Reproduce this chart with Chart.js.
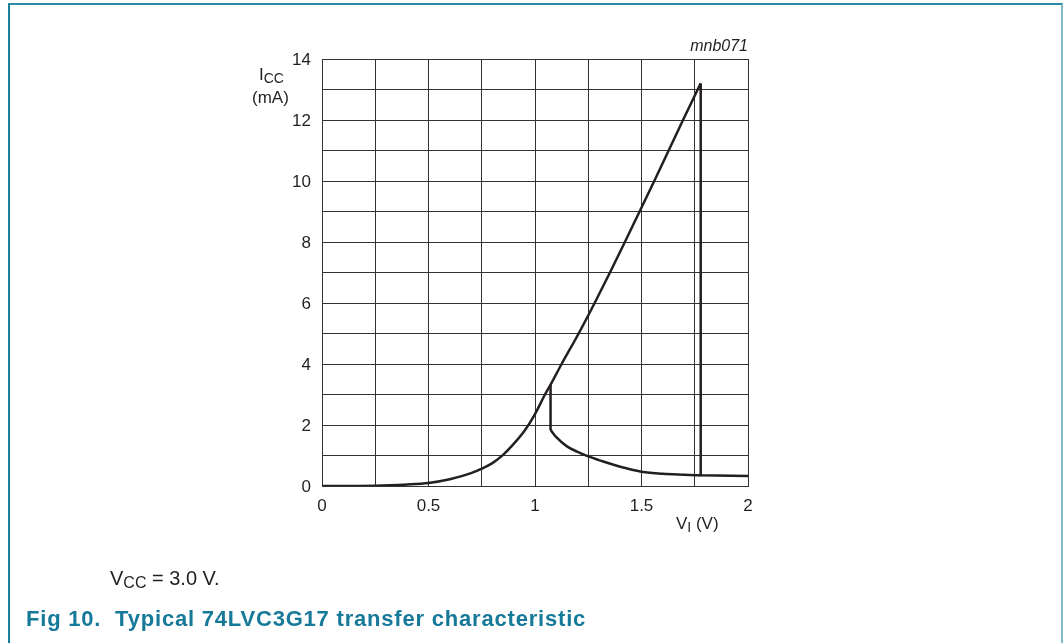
<!DOCTYPE html>
<html>
<head>
<meta charset="utf-8">
<script src="https://cdn.jsdelivr.net/npm/chart.js@4/dist/chart.umd.min.js"></script>
<style>
  body { margin: 0; background: #fff; font-family: "Liberation Sans", Arial, sans-serif; }
  #wrap { position: relative; width: 1063px; height: 643px; overflow: hidden; }
  #frame { position: absolute; left: 8px; top: 3px; width: 1051px; height: 660px;
           border-left: 2px solid #17809a; border-top: 2px solid #2a8aa3; border-right: 2px solid #7fbccd; }
  canvas { position: absolute; left: 0; top: 0; }
  .t { position: absolute; color: #231f20; white-space: nowrap; line-height: 1; }
  .sub { font-size: 14px; position: relative; top: 3px; }
</style>
</head>
<body>
<div id="wrap">
  <div id="frame"></div>
  <canvas id="chart" width="1063" height="643"></canvas>
  <div class="t" style="left:259px; top:66px; font-size:17px;">I<span class="sub">CC</span></div>
  <div class="t" style="left:252px; top:89px; font-size:17px;">(mA)</div>
  <div class="t" style="left:676px; top:515px; font-size:17px;">V<span class="sub">I</span> (V)</div>
  <div class="t" style="right:315px; top:38px; font-size:16px; font-style:italic;">mnb071</div>
  <div class="t" style="left:110px; top:568px; font-size:20px;">V<span class="sub" style="font-size:16px;">CC</span> = 3.0 V.</div>
  <div class="t" style="left:26px; top:608px; font-size:22px; font-weight:bold; letter-spacing:0.8px; color:#17799a;">Fig 10.&nbsp; Typical 74LVC3G17 transfer characteristic</div>
</div>
<script>
// rising branch (V, mA)
const riseV = [0, 0.25, 0.4, 0.5, 0.6, 0.7, 0.75, 0.8, 0.85, 0.9, 0.95, 1.0, 1.047, 1.073, 1.125, 1.205, 1.28, 1.352, 1.422, 1.56, 1.695, 1.778];
const riseI = [0, 0.01, 0.05, 0.1, 0.22, 0.42, 0.57, 0.75, 1.02, 1.38, 1.8, 2.36, 3.0, 3.32, 4.0, 5.0, 6.0, 7.0, 8.0, 10.0, 12.0, 13.2];
// switching drop at the top and tail
const dropV = [1.778, 1.778, 2.0];
const dropI = [13.2, 0.35, 0.33];
// small drop at the lower threshold
const stepV = [1.073, 1.073];
const stepI = [3.32, 1.84];
// falling branch after the lower drop
const fallV = [1.073, 1.1, 1.15, 1.2, 1.25, 1.3, 1.4, 1.5, 1.6, 1.7, 1.778];
const fallI = [1.84, 1.6, 1.3, 1.12, 0.97, 0.85, 0.63, 0.47, 0.4, 0.37, 0.35];

const xLabels = [0, 0.5, 1, 1.5, 2];
const yLabels = [0, 2, 4, 6, 8, 10, 12, 14];

function pts(xs, ys) {
    return xs.map((x, i) => ({ x: x, y: ys[i] }));
}

const lineStyle = {
    showLine: true,
    borderColor: '#231f20',
    borderWidth: 2.5,
    pointRadius: 0,
    fill: false
};

const ctx = document.getElementById('chart').getContext('2d');
const yAxisW = 60;
const xAxisH = 40;

new Chart(ctx, {
    type: 'scatter',
    data: {
        datasets: [
            Object.assign({ data: pts(riseV, riseI), cubicInterpolationMode: 'monotone' }, lineStyle),
            Object.assign({ data: pts(dropV, dropI), tension: 0 }, lineStyle),
            Object.assign({ data: pts(stepV, stepI), tension: 0 }, lineStyle),
            Object.assign({ data: pts(fallV, fallI), cubicInterpolationMode: 'monotone' }, lineStyle)
        ]
    },
    options: {
        responsive: false,
        animation: false,
        layout: {
            padding: { left: 322 - yAxisW, right: 1063 - 748, top: 59, bottom: 643 - 486 - xAxisH }
        },
        plugins: {
            legend: { display: false },
            tooltip: { enabled: false }
        },
        scales: {
            x: {
                type: 'linear',
                min: 0,
                max: 2,
                afterFit: function(scale) { scale.height = xAxisH; },
                border: { color: '#333', width: 1 },
                grid: { color: '#333', lineWidth: 1, drawTicks: false },
                ticks: {
                    stepSize: 0.25,
                    autoSkip: false,
                    maxRotation: 0,
                    padding: 10,
                    color: '#231f20',
                    font: { family: 'Liberation Sans', size: 17 },
                    callback: function(value) {
                        return xLabels.includes(value) ? String(value) : '';
                    }
                }
            },
            y: {
                type: 'linear',
                min: 0,
                max: 14,
                afterFit: function(scale) { scale.width = yAxisW; },
                border: { color: '#333', width: 1 },
                grid: { color: '#333', lineWidth: 1, drawTicks: false },
                ticks: {
                    stepSize: 1,
                    autoSkip: false,
                    padding: 11,
                    labelOffset: 1,
                    color: '#231f20',
                    font: { family: 'Liberation Sans', size: 17 },
                    callback: function(value) {
                        return yLabels.includes(value) ? String(value) : '';
                    }
                }
            }
        }
    }
});
</script>
</body>
</html>
